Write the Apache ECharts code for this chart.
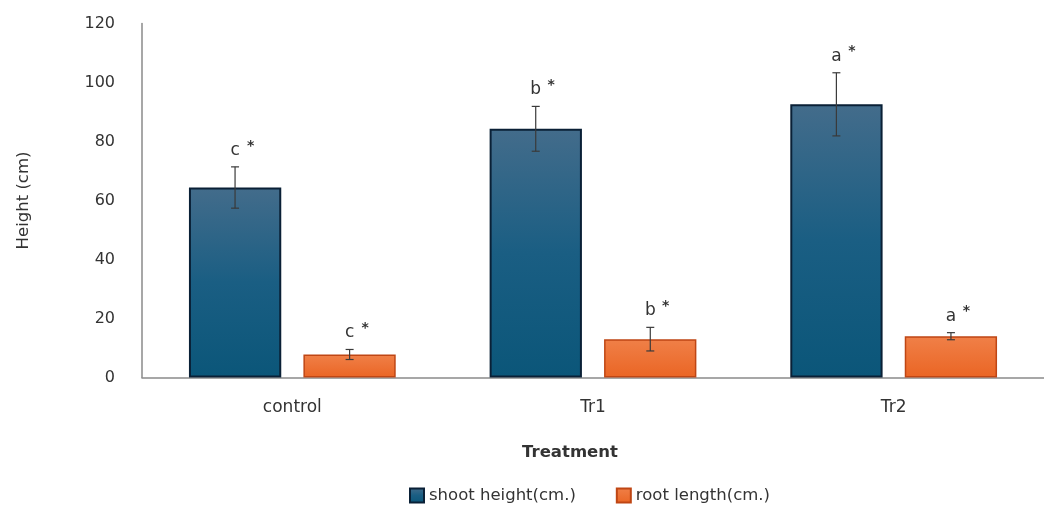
<!DOCTYPE html>
<html>
<head>
<meta charset="utf-8">
<script src="https://cdn.jsdelivr.net/npm/echarts@6/dist/echarts.min.js"></script>
<style>
html,body{margin:0;padding:0;background:#fff;}
#chart{width:1044px;height:507px;}
</style>
</head>
<body>
<div id="chart"></div>
<script>
var categories = ['control', 'Tr1', 'Tr2'];
var yTicks = [0, 20, 40, 60, 80, 100, 120];
var shootHeight = [64.4, 84.3, 92.6];
var shootErr = [7.0, 7.6, 10.7];
var shootLetters = ['c', 'b', 'a'];
var rootLength = [7.8, 13.0, 14.0];
var rootErr = [1.7, 4.0, 1.2];
var rootLetters = ['c', 'b', 'a'];

var FONT = 'DejaVu Sans';
var chart = echarts.init(document.getElementById('chart'), null, {renderer: 'canvas'});

function errSeries(values, errs, letters, side) {
  var data = values.map(function (v, i) { return [i, v, errs[i]]; });
  return {
    type: 'custom',
    silent: true,
    z: 10,
    data: data,
    encode: {x: 0, y: 1},
    renderItem: function (params, api) {
      var ci = api.value(0), v = api.value(1), e = api.value(2);
      var band = api.size([1, 0])[0];
      var c = api.coord([ci, v]);
      var x = c[0] + side * band * 0.1905;
      var yTop = api.coord([ci, v + e])[1];
      var yBot = api.coord([ci, v - e])[1];
      var cap = 4;
      var st = {stroke: '#3a3a3a', lineWidth: 1.2};
      var letter = letters[params.dataIndex];
      return {
        type: 'group',
        children: [
          {type: 'line', shape: {x1: x, y1: yTop, x2: x, y2: yBot}, style: st},
          {type: 'line', shape: {x1: x - cap, y1: yTop, x2: x + cap, y2: yTop}, style: st},
          {type: 'line', shape: {x1: x - cap, y1: yBot, x2: x + cap, y2: yBot}, style: st},
          {type: 'text', x: x, y: yTop - 8, style: {text: letter, font: '17px "' + FONT + '"', fill: '#333', align: 'center', verticalAlign: 'bottom'}},
          {type: 'text', x: x + 15.5, y: yTop - 28, style: {text: '*', font: 'bold 14px "' + FONT + '"', fill: '#333', align: 'center', verticalAlign: 'top'}}
        ]
      };
    }
  };
}

var option = {
  backgroundColor: '#ffffff',
  animation: false,
  textStyle: {fontFamily: FONT},
  grid: {left: 142, top: 23.5, width: 912, height: 354},
  legend: {
    top: 482,
    left: 404,
    itemWidth: 14,
    itemHeight: 14,
    itemGap: 40,
    icon: 'rect',
    data: ['shoot height(cm.)', 'root length(cm.)'],
    textStyle: {fontSize: 16.5, color: '#333', fontFamily: FONT}
  },
  xAxis: {
    type: 'category',
    data: categories,
    axisTick: {show: false},
    axisLine: {lineStyle: {color: '#8a8a8a', width: 1.5}},
    axisLabel: {fontSize: 17, color: '#333', margin: 22, fontFamily: FONT},
    name: 'Treatment',
    nameLocation: 'middle',
    nameGap: 67,
    nameTextStyle: {fontSize: 16.5, fontWeight: 'bold', color: '#333', padding: [0, 46, 0, 0], fontFamily: FONT}
  },
  yAxis: {
    type: 'value',
    min: yTicks[0],
    max: yTicks[yTicks.length - 1],
    interval: yTicks[1] - yTicks[0],
    splitLine: {show: false},
    axisLine: {show: true, lineStyle: {color: '#8a8a8a', width: 1.5}},
    axisTick: {show: false},
    axisLabel: {fontSize: 16, color: '#333', margin: 27, fontFamily: FONT},
    name: 'Height (cm)',
    nameLocation: 'middle',
    nameGap: 110,
    nameTextStyle: {fontSize: 16.5, color: '#333', fontFamily: FONT}
  },
  series: [
    {
      name: 'shoot height(cm.)',
      type: 'bar',
      data: shootHeight,
      barWidth: '30.7%',
      barGap: '24%',
      itemStyle: {
        color: new echarts.graphic.LinearGradient(0, 0, 0, 1, [
          {offset: 0, color: '#436c8b'},
          {offset: 0.5, color: '#1a5e83'},
          {offset: 1, color: '#0b5679'}
        ]),
        borderColor: '#0a2036',
        borderWidth: 2
      }
    },
    {
      name: 'root length(cm.)',
      type: 'bar',
      data: rootLength,
      barWidth: '30.7%',
      itemStyle: {
        color: new echarts.graphic.LinearGradient(0, 0, 0, 1, [
          {offset: 0, color: '#f08048'},
          {offset: 1, color: '#ea6524'}
        ]),
        borderColor: '#bf4614',
        borderWidth: 1.5
      }
    },
    errSeries(shootHeight, shootErr, shootLetters, -1),
    errSeries(rootLength, rootErr, rootLetters, 1)
  ]
};
chart.setOption(option);
</script>
</body>
</html>
